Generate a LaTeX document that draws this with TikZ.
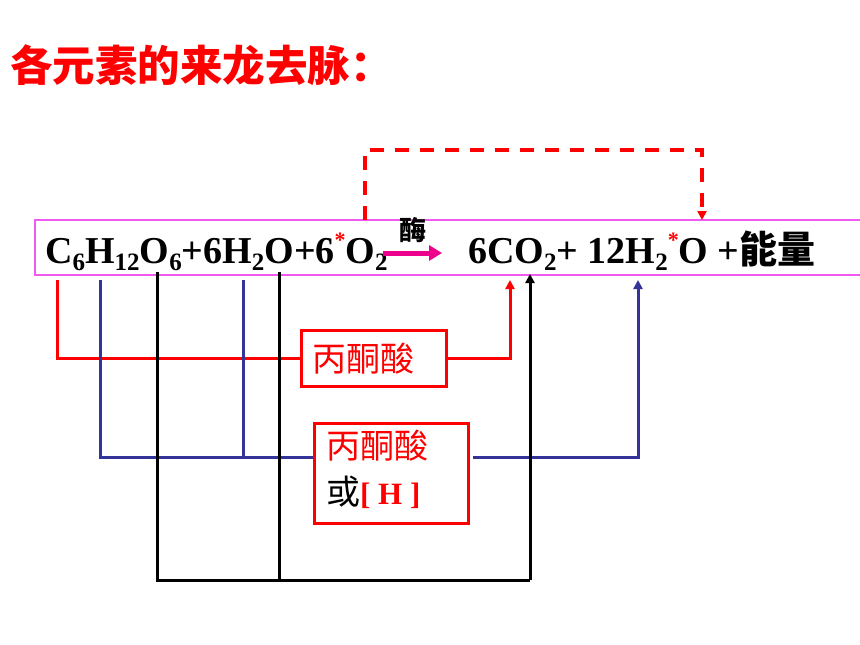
\documentclass[tikz,border=0pt]{standalone}
\usepackage{fontspec}
\setmainfont{Liberation Serif}
\newfontfamily\cjk{Noto Sans CJK SC}
\usetikzlibrary{arrows.meta}
\definecolor{myblue}{RGB}{51,51,153}
\definecolor{mypink}{RGB}{240,90,240}
\newcommand\sbs[1]{\raisebox{-0.2em}{\fontsize{25}{25}\selectfont #1}}
\newcommand\rstar{\raisebox{0.42em}{\fontsize{22}{22}\selectfont\textcolor{red}{*}}}
\tikzset{
  redl/.style={draw=red, line width=3pt},
  bluel/.style={draw=myblue, line width=3pt},
  blkl/.style={draw=black, line width=3pt},
  dashl/.style={draw=red, line width=4pt, dash pattern=on 14pt off 11pt},
  tip/.style={-{Triangle[length=9pt,width=9pt]}},
  pbox/.style={draw=red, line width=3pt, inner sep=0pt, anchor=north west},
  eqn/.style={inner sep=0pt, anchor=base west, font=\fontsize{38}{40}\selectfont\bfseries},
}
\begin{document}
\begin{tikzpicture}[x=1pt,y=-1pt]
\useasboundingbox (0,0) rectangle (860,645);
% title
\node[anchor=west, inner sep=0pt, text=red, font=\fontsize{42.5}{43}\selectfont\cjk\bfseries] (title) at (10,65) {各元素的来龙去脉：};
% pink frame
\draw[draw=mypink, line width=1.5pt] (870,220) -- (35,220) -- (35,275) -- (870,275);
% equation
\node[eqn] (eqL) at (45,263) {C\sbs{6}H\sbs{12}O\sbs{6}+6H\sbs{2}O+6\rstar O\sbs{2}};
\node[eqn] (eqR) at (468,263) {6CO\sbs{2}+ 12H\sbs{2}\rstar O +{\cjk\bfseries 能量}};
\node[inner sep=0pt, font=\fontsize{27}{28}\selectfont\cjk\bfseries] (enz) at (413,230) {酶};
\coordinate (m1) at (383,253);
\coordinate (m2) at (442,253);
\draw[draw=magenta, line width=5pt, -{Triangle[length=13pt,width=15pt]}] (m1) -- (m2);
% boxes
\node[pbox, minimum width=145pt, minimum height=56pt, text width=141pt, align=left,
  font=\fontsize{34}{36}\selectfont\cjk, text=red] (box1) at (300,329) {\hspace*{9pt}丙酮酸};
\node[pbox, minimum width=154pt, minimum height=100pt] (box2) at (313,422) {};
\node[anchor=north west, inner sep=0pt, align=left, font=\fontsize{34}{46}\selectfont\cjk, text=red] (box2t) at (326,430)
  {丙酮酸\\\textcolor{black}{或}{\rmfamily\bfseries\fontsize{31}{46}\selectfont[ H ]}};
% coordinates
\coordinate (r1) at (57,280);
\coordinate (r2) at (510,280);
\coordinate (b1) at (100,280);
\coordinate (b2) at (243,280);
\coordinate (bl) at (0,457);
\coordinate (br0) at (473,457);
\coordinate (b3) at (638,280);
\coordinate (k1) at (157,272);
\coordinate (k2) at (279,272);
\coordinate (kb) at (0,580);
\coordinate (k3) at (530,274);
\coordinate (d1) at (365,220);
\coordinate (dtop) at (702,150);
\coordinate (d2) at (702,220);
% red
\draw[redl] (r1) |- (box1.west);
\draw[redl, tip] (box1.east) -| (r2);
% blue
\draw[bluel] (b1) |- (box2.west |- bl);
\draw[bluel] (b2) -- (b2 |- bl);
\draw[bluel, tip] (br0) -| (b3);
% black
\draw[blkl] (k1) |- (k3 |- kb);
\draw[blkl, tip] (k3 |- kb) -- (k3);
\draw[blkl] (k2) -- (k2 |- kb);
% dashed
\draw[dashl, tip] (d1) |- (dtop) -- (d2);
\end{tikzpicture}
\end{document}
